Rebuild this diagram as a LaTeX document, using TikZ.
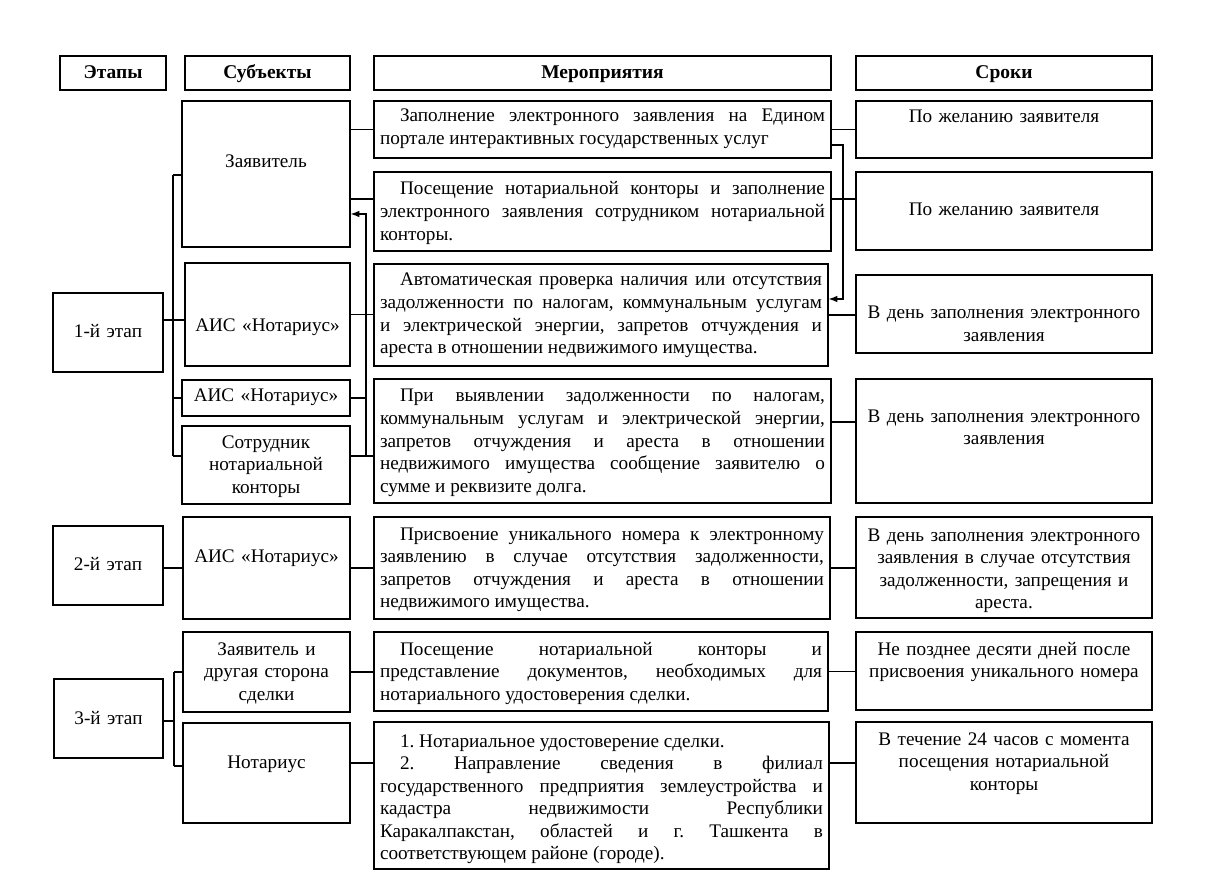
\documentclass[tikz,border=0pt]{standalone}
\usepackage{fontspec}
\setmainfont{Liberation Serif}
\usetikzlibrary{arrows.meta, positioning}
\newdimen\pxu \pxu=0.75pt

\begin{document}
\begin{tikzpicture}[x=0.75pt, y=-0.75pt,
    font=\fontsize{14.4}{16.9}\selectfont\frenchspacing,
    box/.style={draw, line width=1.5\pxu, anchor=north west, inner xsep=6\pxu, inner ysep=0pt, outer sep=0pt},
    tb/.style 2 args={text height=#1\pxu, text depth=#2\pxu},
    hdr/.style={box, font=\fontsize{14.6}{16.9}\selectfont\bfseries, align=center, tb={23}{11}},
    stage/.style={box, align=center, text width=98\pxu},
    subj/.style={box, align=center, text width=156\pxu},
    act/.style={box, align=justify, text width=445\pxu},
    term/.style={box, align=center, text width=284\pxu},
    link/.style={line width=1.8\pxu},
    tip/.style={-{Latex[length=7pt, width=5pt]}}]
  \useasboundingbox (0,0) rectangle (1207,891);

  % headers
  \node[hdr, text width=94\pxu]  (hEt)   at (60,56)  {Этапы};
  \node[hdr, text width=153\pxu] (hSub)  at (185,56) {Субъекты};
  \node[hdr, text width=445\pxu] (hMer)  at (374,56) {Мероприятия};
  \node[hdr, text width=284\pxu] (hSrok) at (856,56) {Сроки};

  % stages
  \node[stage, tb={45}{34}] (et1) at (53,293) {1-й этап};
  \node[stage, tb={44}{35}] (et2) at (53,526) {2-й этап};
  \node[stage, text width=97\pxu, tb={45}{34}] (et3) at (54,679) {3-й этап};

  % subjects
  \node[subj, tb={67}{79}] (sub1) at (182,101) {Заявитель};
  \node[subj, text width=153\pxu, tb={69}{34}] (sub2) at (185,263) {АИС «Нотариус»};
  \node[subj, tb={22}{14}] (sub3) at (182,380) {АИС «Нотариус»};
  \node[subj, tb={22}{56}] (sub4) at (182,426) {Сотрудник\\нотариальной\\конторы};
  \node[subj, text width=155\pxu, tb={45}{57}] (sub5) at (183,517) {АИС «Нотариус»};
  \node[subj, text width=155\pxu, tb={23}{57}] (sub6) at (183,632) {Заявитель и\\другая сторона\\сделки};
  \node[subj, text width=155\pxu, tb={45}{55}] (sub7) at (183,723) {Нотариус};

  % actions
  \node[act, tb={21}{36}] (act1) at (374,101) {\hspace*{20\pxu}Заполнение электронного заявления на Едином\linebreak портале интерактивных государственных услуг};
  \node[act, tb={23}{56}] (act2) at (374,172) {\hspace*{20\pxu}Посещение нотариальной конторы и заполнение\linebreak электронного заявления сотрудником нотариальной\linebreak конторы.};
  \node[act, text width=442\pxu, tb={22}{80}] (act3) at (374,264) {\hspace*{20\pxu}Автоматическая проверка наличия или отсутствия\linebreak задолженности по налогам, коммунальным услугам\linebreak и электрической энергии, запретов отчуждения и\linebreak ареста в отношении недвижимого имущества.};
  \node[act, tb={23}{101}] (act4) at (374,379) {\hspace*{20\pxu}При выявлении задолженности по налогам,\linebreak коммунальным услугам и электрической энергии,\linebreak запретов отчуждения и ареста в отношении\linebreak недвижимого имущества сообщение заявителю о\linebreak сумме и реквизите долга.};
  \node[act, text width=444\pxu, tb={23}{79}] (act5) at (374,517) {\hspace*{20\pxu}Присвоение уникального номера к электронному\linebreak заявлению в случае отсутствия задолженности,\linebreak запретов отчуждения и ареста в отношении\linebreak недвижимого имущества.};
  \node[act, text width=442\pxu, tb={23}{56}] (act6) at (374,632) {\hspace*{20\pxu}Посещение нотариальной конторы и\linebreak представление документов, необходимых для\linebreak нотариального удостоверения сделки.};
  \node[act, text width=443\pxu, tb={25}{122}] (act7) at (374,722) {\hspace*{20\pxu}1. Нотариальное удостоверение сделки.\\ \hspace*{20\pxu}2. Направление сведения в филиал\linebreak государственного предприятия землеустройства и\linebreak кадастра недвижимости Республики\linebreak Каракалпакстан, областей и г. Ташкента в\linebreak соответствующем районе (городе).};

  % terms
  \node[term, tb={22}{35}]  (srok1) at (856,101) {По желанию заявителя};
  \node[term, tb={44}{34}]  (srok2) at (856,172) {По желанию заявителя};
  \node[term, tb={44}{34}]  (srok3) at (856,275) {В день заполнения электронного\\заявления};
  \node[term, tb={43}{81}]  (srok4) at (856,379) {В день заполнения электронного\\заявления};
  \node[term, tb={24}{77}]  (srok5) at (856,517) {В день заполнения электронного\\заявления в случае отсутствия\\задолженности, запрещения и\\ареста.};
  \node[term, tb={23}{55}]  (srok6) at (856,632) {Не позднее десяти дней после\\присвоения уникального номера};
  \node[term, tb={23}{78}]  (srok7) at (856,722) {В течение 24 часов с момента\\посещения нотариальной\\конторы};

  % stage 1 links
  \coordinate (sp1t) at (173,175);
  \coordinate (sp1b) at (173,456);
  \coordinate (j1) at (173,320);
  \draw[link] (sp1t) -- (sp1b);
  \draw[link] (sp1t) -- (sp1t -| sub1.west);
  \draw[link] (et1.east |- j1) -- (sub2.west |- j1);
  \draw[link] (sub3.west) -- (sub3.west -| sp1t);
  \draw[link] (sp1b) -- (sp1b -| sub4.west);

  \coordinate (j2) at (362,199);
  \coordinate (up) at (366,456);
  \coordinate (j3) at (366,214);
  \draw[link] (act1.west) -- (act1.west -| sub1.east);
  \draw[link] (sub1.east |- j2) -- (act2.west |- j2);
  \draw[link] (sub2.east) -- (sub2.east -| act3.west);
  \draw[link] (sub3.east) -- (sub3.east -| up);
  \draw[link] (sub4.east |- up) -- (act4.west |- up);
  \draw[link, tip] (up) -- (j3) -- (j3 -| sub1.east);

  \coordinate (j4) at (843,199);
  \coordinate (k1) at (843,145);
  \coordinate (k2) at (843,299);
  \coordinate (j5) at (843,422);
  \coordinate (j6) at (843,763);
  \draw[link] (act1.east) -- (srok1.west);
  \draw[link] (act2.east |- j4) -- (srok2.west |- j4);
  \draw[link, tip] (act1.east |- k1) -- (k1) -- (k2) -- (k2 -| act3.east);
  \draw[link] (act3.east) -- (act3.east -| srok3.west);
  \draw[link] (act4.east |- j5) -- (srok4.west |- j5);

  % stage 2 links
  \draw[link] (sub5.west) -- (sub5.west -| et2.east);
  \draw[link] (sub5.east) -- (sub5.east -| act5.west);
  \draw[link] (act5.east) -- (act5.east -| srok5.west);

  % stage 3 links
  \coordinate (sp3t) at (174,672);
  \coordinate (sp3b) at (174,766);
  \coordinate (j7) at (174,721);
  \draw[link] (sp3t) -- (sp3b);
  \draw[link] (sp3t) -- (sp3t -| sub6.west);
  \draw[link] (sp3b) -- (sp3b -| sub7.west);
  \draw[link] (et3.east |- j7) -- (j7);
  \draw[link] (sub6.east) -- (sub6.east -| act6.west);
  \draw[link] (act6.east) -- (act6.east -| srok6.west);
  \draw[link] (sub7.east |- j6) -- (act7.west |- j6);
  \draw[link] (act7.east |- j6) -- (srok7.west |- j6);
\end{tikzpicture}
\end{document}
